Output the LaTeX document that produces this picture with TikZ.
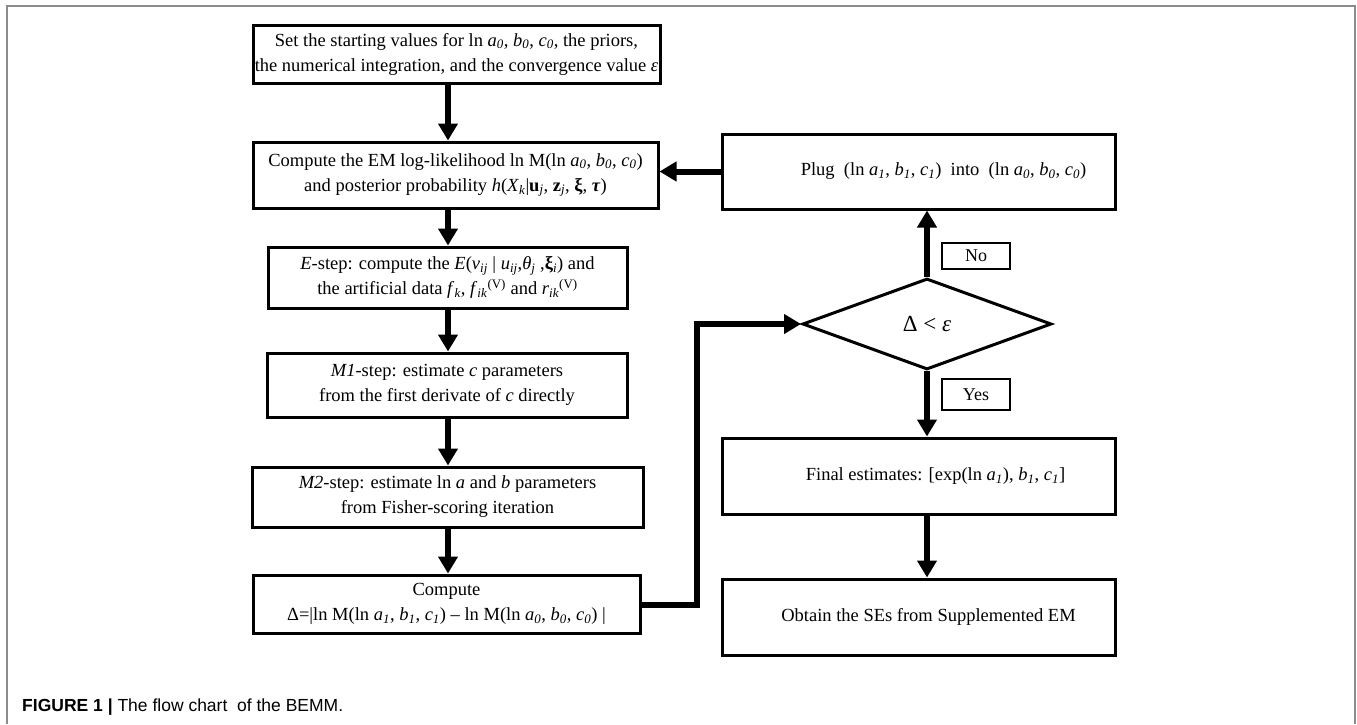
\documentclass[tikz,border=0pt]{standalone}
\usepackage{fontspec}
\setmainfont{Liberation Serif}
\setsansfont{Liberation Sans}
\usetikzlibrary{shapes.geometric,arrows.meta}
\newcommand{\vsub}[2]{\textit{#1}\textsubscript{\textit{#2}}}
\begin{document}
\begin{tikzpicture}[x=1pt,y=-1pt,
  box/.style={draw,line width=3pt,rectangle,inner sep=0pt,align=center,font=\fontsize{18.5}{25}\selectfont},
  lab/.style={draw,line width=2pt,rectangle,inner sep=0pt,font=\fontsize{18}{20}\selectfont},
  arr/.style={line width=6pt,-{Triangle[width=19pt,length=17pt]}},
  conn/.style={line width=6pt}]
\useasboundingbox (0,0) rectangle (1357,724);
\draw[gray!90,line width=2pt] (7,724) -- (7,6) -- (1355,6) -- (1355,724);
% left column
\node[box,minimum width=407pt,minimum height=58pt] (b1) at (456.5,54)
 {Set the starting values for ln \vsub{a}{0}, \vsub{b}{0}, \vsub{c}{0}, the priors,\\
  the numerical integration, and the convergence value \textit{ε}};
\node[box,minimum width=405pt,minimum height=66pt] (b2) at (455.5,175)
 {Compute the EM log-likelihood ln M(ln \vsub{a}{0}, \vsub{b}{0}, \vsub{c}{0})\\
  and posterior probability \textit{h}(\vsub{X}{k}|\textbf{u}\textsubscript{\textit{j}}, \textbf{z}\textsubscript{\textit{j}}, \textbf{ξ}, \textbf{\textit{τ}})};
\node[box,minimum width=359pt,minimum height=61pt] (b3) at (447.5,277.5)
 {\textit{E}-step: compute the \textit{E}(\vsub{v}{ij} | \vsub{u}{ij},\vsub{θ}{j} ,\textbf{ξ}\textsubscript{\textit{i}}) and\\
  the artificial data \vsub{f}{k}, \vsub{f}{ik}\textsuperscript{(V)} and \vsub{r}{ik}\textsuperscript{(V)}};
\node[box,minimum width=360pt,minimum height=64pt] (b4) at (447,385)
 {\textit{M1}-step: estimate \textit{c} parameters\\
  from the first derivate of \textit{c} directly};
\node[box,minimum width=391pt,minimum height=60pt] (b5) at (447.5,497)
 {\textit{M2}-step: estimate ln \textit{a} and \textit{b} parameters\\
  from Fisher-scoring iteration};
\node[box,minimum width=387pt,minimum height=58pt] (b6) at (446.5,604)
 {Compute\\
  Δ=|ln M(ln \vsub{a}{1}, \vsub{b}{1}, \vsub{c}{1}) – ln M(ln \vsub{a}{0}, \vsub{b}{0}, \vsub{c}{0}) |};
% right column
\node[box,minimum width=393pt,minimum height=75pt] (plug) at (918.5,171.5)
 {\hspace*{50pt}Plug~ (ln \vsub{a}{1}, \vsub{b}{1}, \vsub{c}{1}) ~into~ (ln \vsub{a}{0}, \vsub{b}{0}, \vsub{c}{0})};
\node[draw,line width=3pt,diamond,aspect=2.74,minimum width=249pt,minimum height=91pt,inner sep=0pt,
  font=\fontsize{23}{25}\selectfont] (dia) at (927,324) {\raisebox{-7pt}{Δ < \textit{ε}}};
\node[box,minimum width=393pt,minimum height=76pt] (fin) at (918.5,476)
 {\hspace*{34pt}Final estimates: [exp(ln \vsub{a}{1}), \vsub{b}{1}, \vsub{c}{1}]};
\node[box,minimum width=393pt,minimum height=76pt] (obt) at (918.5,617)
 {\hspace*{20pt}Obtain the SEs from Supplemented EM};
\node[lab,minimum width=68pt,minimum height=26pt] (no) at (976,256) {No};
\node[lab,minimum width=68pt,minimum height=31pt] (yes) at (976,394.5) {Yes};
% connectors
\coordinate (colx) at (448,0);
\draw[arr] (b1.south -| colx) -- (b2.north -| colx);
\draw[arr] (b2.south -| colx) -- (b3.north -| colx);
\draw[arr] (b3.south -| colx) -- (b4.north -| colx);
\draw[arr] (b4.south -| colx) -- (b5.north -| colx);
\draw[arr] (b5.south -| colx) -- (b6.north -| colx);
\draw[arr] (plug.west) -- (plug.west -| b2.east);
\draw[arr] (dia.north) -- (dia.north |- plug.south);
\draw[arr] (dia.south) -- (dia.south |- fin.north);
\draw[arr] (fin.south -| dia.south) -- (obt.north -| dia.south);
\coordinate (loopc) at (697,605);
\draw[arr] (b6.east |- loopc) -- (loopc) |- (dia.west);
% caption
\node[anchor=base west,inner sep=0pt,font=\sffamily\fontsize{17.5}{20}\selectfont] (cap) at (22,711)
 {\textbf{FIGURE 1 |} The flow chart~ of the BEMM.};
\end{tikzpicture}
\end{document}
